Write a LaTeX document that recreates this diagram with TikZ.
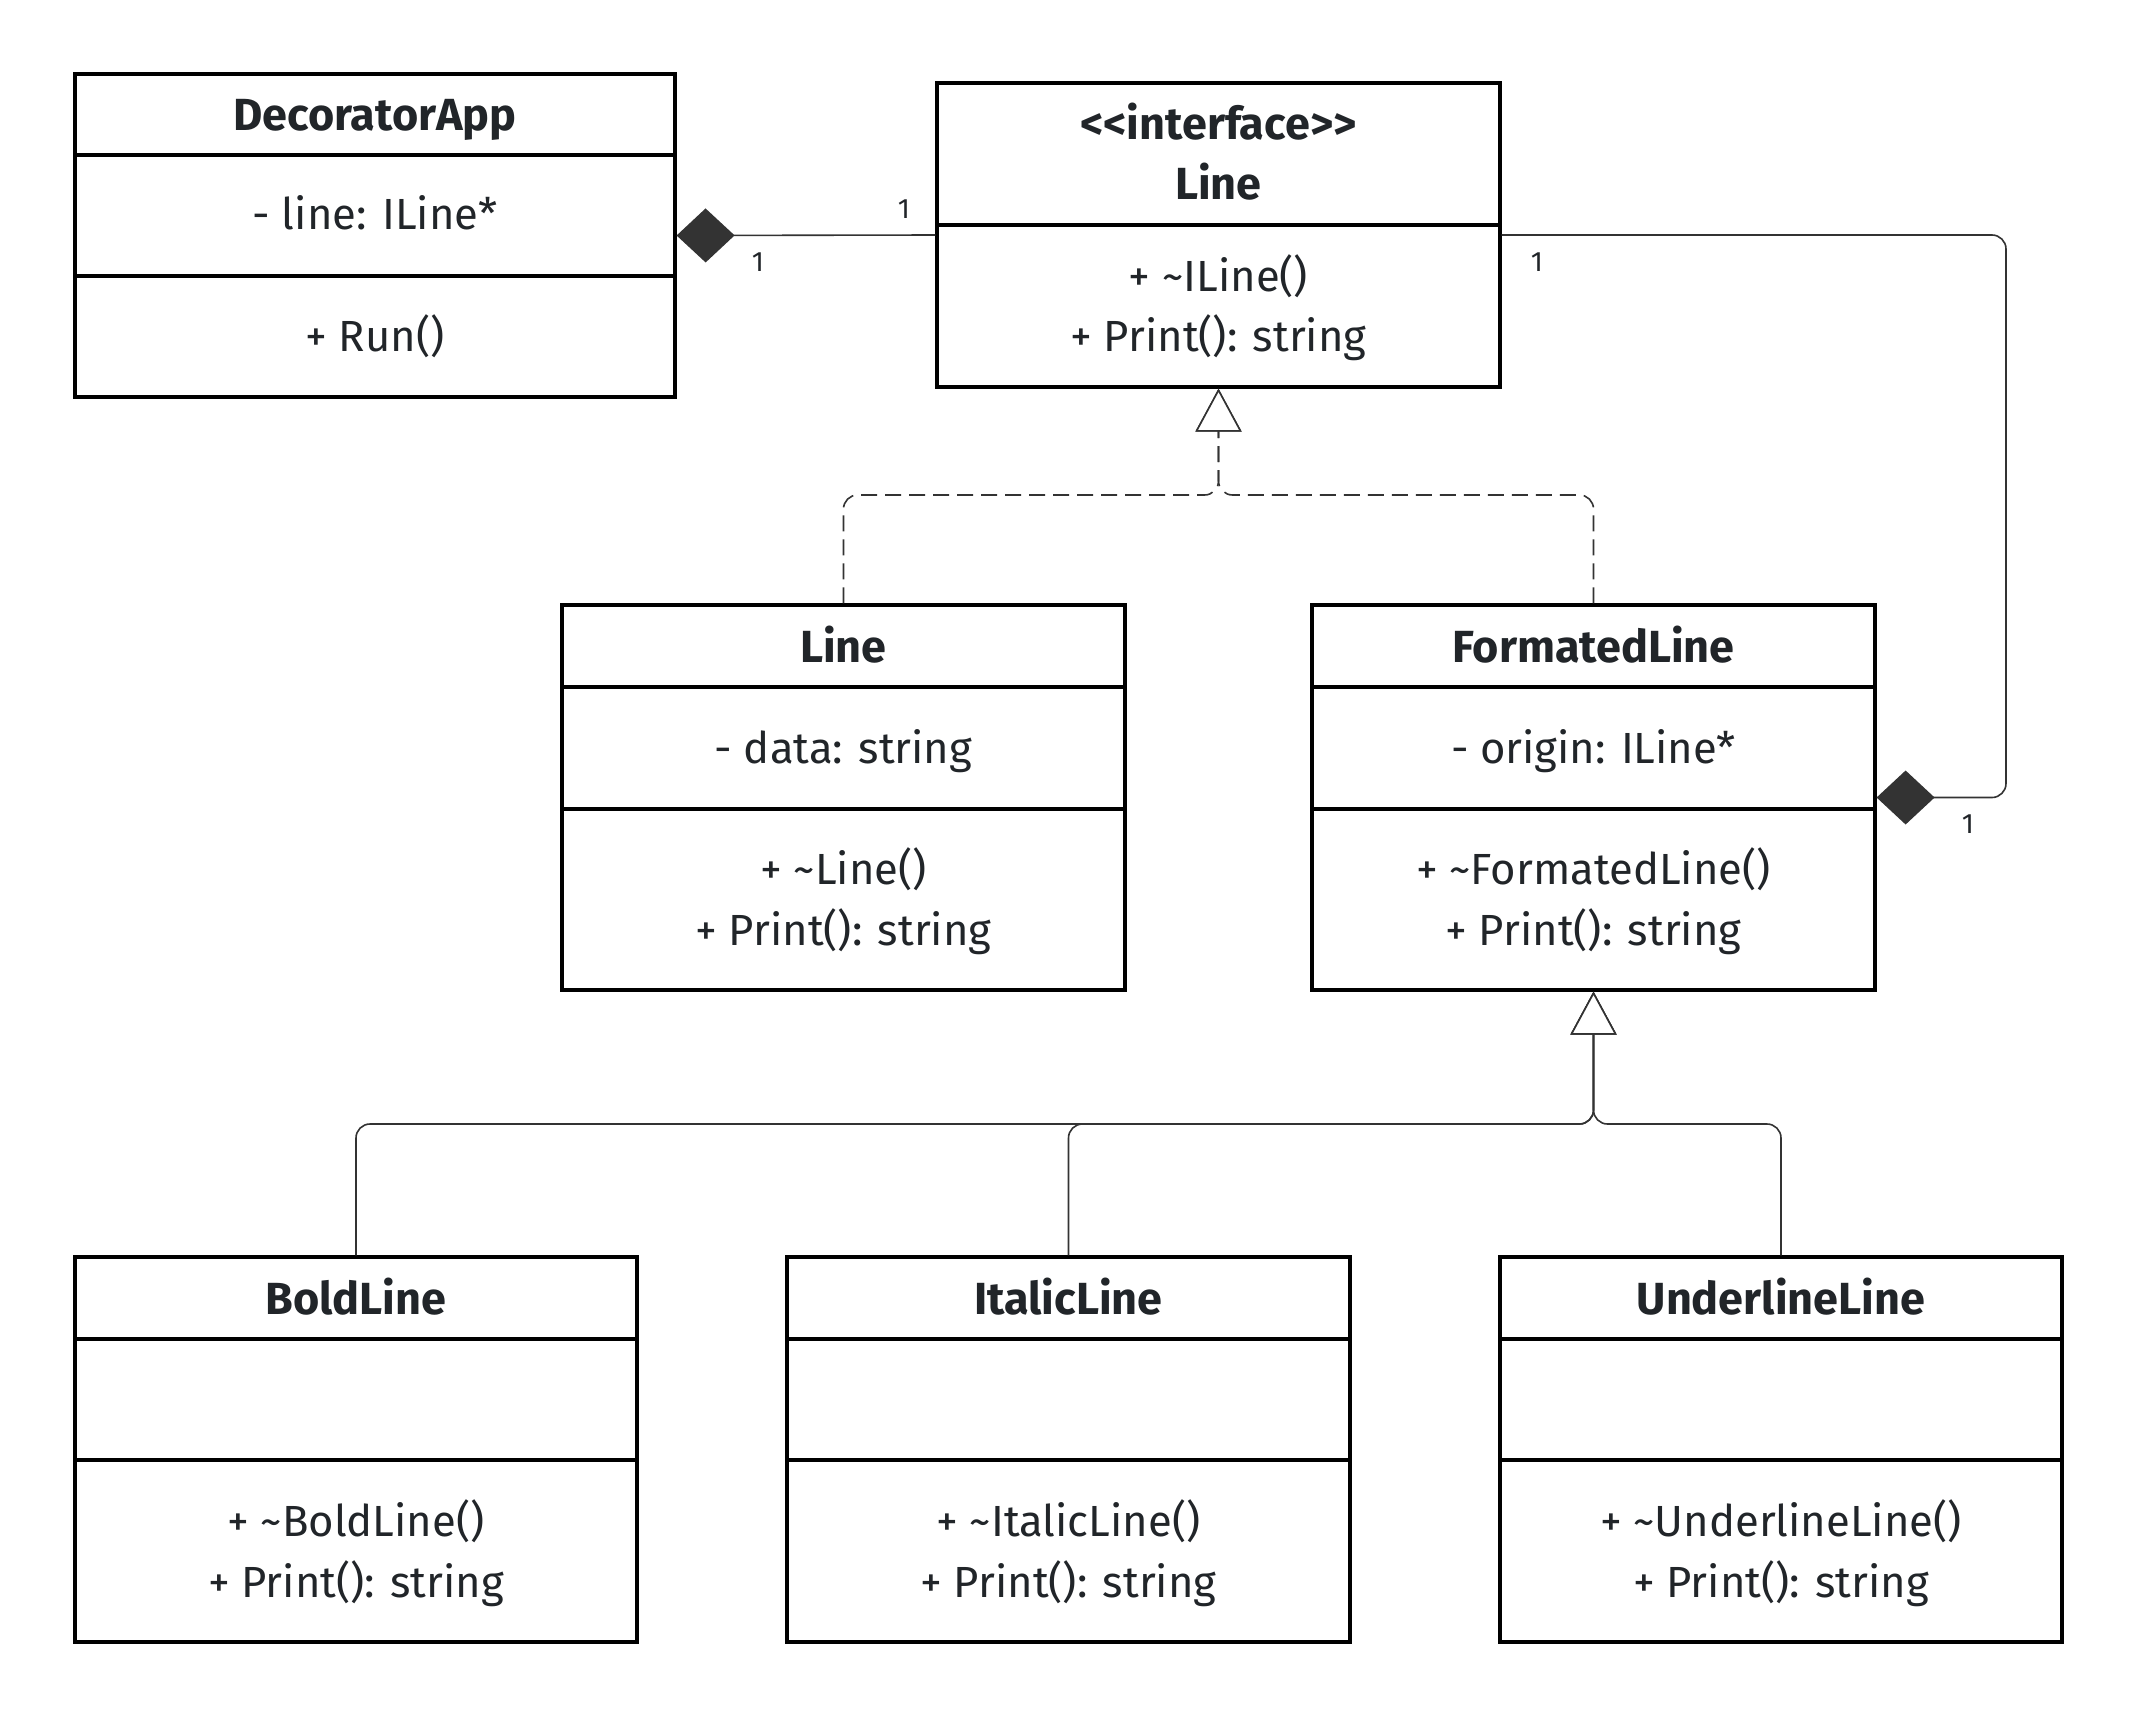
\documentclass[tikz,border=0pt]{standalone}
\usepackage{fontspec}
\setmainfont{Fira Sans}
\usetikzlibrary{arrows.meta,fit}
\definecolor{ink}{HTML}{212529}
\definecolor{wire}{HTML}{333333}
\tikzset{
  classbox/.style={draw=black, line width=1.6pt, inner sep=0pt, fill=white},
  divider/.style={draw=black, line width=1.6pt},
  title/.style={font=\fontsize{22.5}{27}\selectfont\bfseries, text=ink, inner sep=0pt, text height=0.72em, text depth=0pt, yshift=-3.5pt},
  member/.style={font=\fontsize{21.8}{26}\selectfont, text=ink, inner sep=0pt, text height=0.72em, text depth=0pt, yshift=-3.5pt},
  mult/.style={font=\fontsize{14}{16}\selectfont, text=ink, inner sep=0pt},
  wire/.style={draw=wire, line width=0.8pt, rounded corners=7pt},
  realize/.style={wire, dash pattern=on 8pt off 4pt, -{Triangle[length=21.5pt, width=23pt, fill=white]}},
  inherit/.style={wire, -{Triangle[length=21.5pt, width=23pt, fill=white]}},
  compose/.style={wire, {Diamond[length=29pt, width=27pt, fill=wire]}-},
}
\begin{document}
\begin{tikzpicture}[x=0.5pt,y=-0.5pt]
\fill[white] (0,0) rectangle (2138,1719);
\useasboundingbox (0,0) rectangle (2138,1719);

% DecoratorApp
\node[classbox, fit={(75,74) (675,397)}] (app) {};
\draw[divider] (75,155) -- (675,155);
\draw[divider] (75,276) -- (675,276);
\node[title] (app-name) at (375,116) {DecoratorApp};
\node[member] (app-attr) at (375,215) {- line: ILine*};
\node[member] (app-op1) at (375,337) {+ Run()};

% ILine interface
\node[classbox, fit={(937,83) (1500,387)}] (iline) {};
\draw[divider] (937,225) -- (1500,225);
\node[title] (iline-stereo) at (1218.5,125) {{<}{<}interface{>}{>}};
\node[title] (iline-name) at (1218.5,185) {Line};
\node[member] (iline-op1) at (1218.5,277) {+ \textasciitilde ILine()};
\node[member] (iline-op2) at (1218.5,337) {+ Print(): string};

% Line
\node[classbox, fit={(562,605) (1125,990)}] (line) {};
\draw[divider] (562,687) -- (1125,687);
\draw[divider] (562,809) -- (1125,809);
\node[title] (line-name) at (843.5,648) {Line};
\node[member] (line-attr) at (843.5,749) {- data: string};
\node[member] (line-op1) at (843.5,870) {+ \textasciitilde Line()};
\node[member] (line-op2) at (843.5,931) {+ Print(): string};

% FormatedLine
\node[classbox, fit={(1312,605) (1875,990)}] (fmt) {};
\draw[divider] (1312,687) -- (1875,687);
\draw[divider] (1312,809) -- (1875,809);
\node[title] (fmt-name) at (1593.5,648) {FormatedLine};
\node[member] (fmt-attr) at (1593.5,749) {- origin: ILine*};
\node[member] (fmt-op1) at (1593.5,870) {+ \textasciitilde FormatedLine()};
\node[member] (fmt-op2) at (1593.5,931) {+ Print(): string};

% BoldLine
\node[classbox, fit={(75,1257) (637,1642)}] (bold) {};
\draw[divider] (75,1339) -- (637,1339);
\draw[divider] (75,1460) -- (637,1460);
\node[title] (bold-name) at (356,1300) {BoldLine};
\node[member] (bold-op1) at (356,1522) {+ \textasciitilde BoldLine()};
\node[member] (bold-op2) at (356,1583) {+ Print(): string};

% ItalicLine
\node[classbox, fit={(787,1257) (1350,1642)}] (italic) {};
\draw[divider] (787,1339) -- (1350,1339);
\draw[divider] (787,1460) -- (1350,1460);
\node[title] (italic-name) at (1068.5,1300) {ItalicLine};
\node[member] (italic-op1) at (1068.5,1522) {+ \textasciitilde ItalicLine()};
\node[member] (italic-op2) at (1068.5,1583) {+ Print(): string};

% UnderlineLine
\node[classbox, fit={(1500,1257) (2062,1642)}] (under) {};
\draw[divider] (1500,1339) -- (2062,1339);
\draw[divider] (1500,1460) -- (2062,1460);
\node[title] (under-name) at (1781,1300) {UnderlineLine};
\node[member] (under-op1) at (1781,1522) {+ \textasciitilde UnderlineLine()};
\node[member] (under-op2) at (1781,1583) {+ Print(): string};

% composition: DecoratorApp owns an ILine
\draw[compose] (app.east) -- (iline.west);
\node[mult] (m-app-iline) at (904,209) {1};
\node[mult] (m-app-app) at (758,262) {1};

% composition: FormatedLine wraps an ILine
\coordinate (bend) at (2006,235);
\draw[compose] (fmt.east) -- (fmt.east -| bend) -- (bend) -- (iline.east);
\node[mult] (m-fmt-iline) at (1537,262) {1};
\node[mult] (m-fmt-fmt) at (1968,824) {1};

% realization of the interface
\coordinate (rjoin) at (1218.5,495);
\draw[realize] (line.north) |- (rjoin) -- (iline.south);
\draw[realize] (fmt.north) |- (rjoin) -- (iline.south);

% generalization of FormatedLine
\coordinate (gjoin) at (1593.5,1124);
\draw[inherit] (bold.north) |- (gjoin) -- (fmt.south);
\draw[inherit] (italic.north) |- (gjoin) -- (fmt.south);
\draw[inherit] (under.north) |- (gjoin) -- (fmt.south);
\end{tikzpicture}
\end{document}
